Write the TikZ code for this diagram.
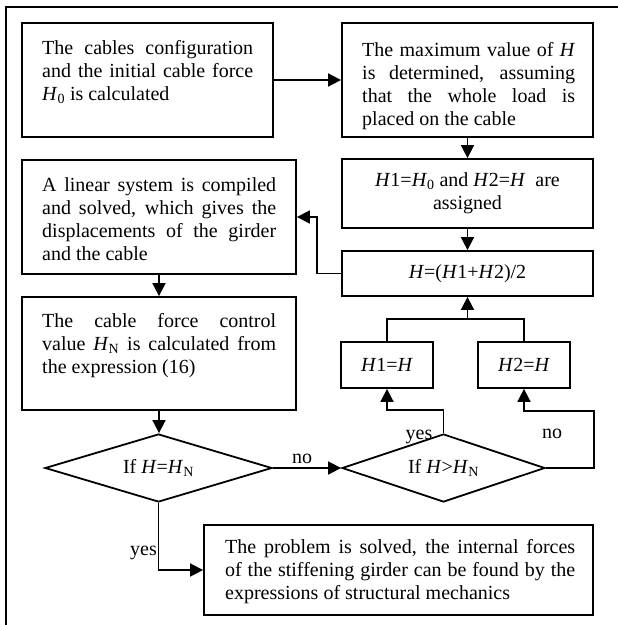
\documentclass[tikz,border=0pt]{standalone}
\usepackage{fontspec}
\setmainfont{Liberation Serif}
\usetikzlibrary{arrows.meta,shapes.geometric}
\begin{document}
\begin{tikzpicture}[x=1pt,y=-1pt,
  box/.style={draw, line width=1.8pt, rectangle, inner sep=0pt, font=\fontsize{20}{23}\selectfont},
  txt/.style={inner sep=0pt, align=justify, font=\fontsize{20}{23}\selectfont},
  dia/.style={draw, line width=1.8pt, diamond, aspect=3.3, inner sep=0pt, font=\fontsize{20}{23}\selectfont},
  conn/.style={line width=1.7pt},
  arr/.style={line width=1.7pt, -{Triangle[length=13pt,width=13pt]}},
  lab/.style={inner sep=0pt, font=\fontsize{20}{23}\selectfont}
]
\useasboundingbox (0,0) rectangle (618,625);
% outer frame (only top and left edges visible)
\coordinate (fTL) at (6,7);
\coordinate (fTR) at (620,7);
\coordinate (fBL) at (6,627);
\draw[line width=2pt] (fTR) -- (fTL) -- (fBL);

% boxes
\node[box, minimum width=251pt, minimum height=114pt] (b1) at (147.5,80) {};
\node[txt, text width=211pt, anchor=base west] (b1t) at (42,54)
  {The cables configuration\linebreak and the initial cable force\linebreak \textit{H}\textsubscript{0} is calculated};

\node[box, minimum width=251pt, minimum height=114pt] (b2) at (467.5,80) {};
\node[txt, text width=213pt, anchor=base west] (b2t) at (362,56)
  {The maximum value of \textit{H}\linebreak is determined, assuming\linebreak that the whole load is\linebreak placed on the cable};

\node[box, align=center, minimum width=251pt, minimum height=69pt] (asg) at (467.5,193.5)
  {\textit{H}1=\textit{H}\textsubscript{0} and \textit{H}2=\textit{H}~ are\\assigned};

\node[box, minimum width=251pt, minimum height=45pt] (mid) at (467.5,273.5)
  {\textit{H}=(\textit{H}1+\textit{H}2)/2};

\node[box, minimum width=274pt, minimum height=114pt] (b3) at (159,217) {};
\node[txt, text width=234pt, anchor=base west] (b3t) at (42,191)
  {A linear system is compiled\linebreak and solved, which gives the\linebreak displacements of the girder\linebreak and the cable};

\node[box, minimum width=274pt, minimum height=113pt] (bhn) at (159,353.5) {};
\node[txt, text width=234pt, anchor=base west] (bhnt) at (42,327)
  {The cable force control\linebreak value \textit{H}\textsubscript{N} is calculated from\linebreak the expression (16)};

\node[box, minimum width=92pt, minimum height=46pt] (h1) at (387,365) {\textit{H}1=\textit{H}};
\node[box, minimum width=92pt, minimum height=46pt] (h2) at (524,365) {\textit{H}2=\textit{H}};

\node[dia, minimum width=227pt, minimum height=68pt] (d1) at (158.5,468)
  {If \textit{H}=\textit{H}\textsubscript{N}};
\node[dia, minimum width=203pt, minimum height=68pt] (d2) at (443.5,468)
  {If \textit{H}>\textit{H}\textsubscript{N}};

\node[box, minimum width=389pt, minimum height=90pt] (fin) at (398.5,570) {};
\node[txt, text width=350pt, anchor=base west] (fint) at (225,553)
  {The problem is solved, the internal forces\linebreak of the stiffening girder can be found by the\linebreak expressions of structural mechanics};

% connectors
\draw[arr] (b1.east) -- (b2.west);
\draw[arr] (b2.south) -- (asg.north);
\draw[arr] (asg.south) -- (mid.north);
\draw[arr] (mid.west) -- ++(-24,0) |- (b3.east);
\draw[arr] (b3.south) -- (bhn.north);
\draw[arr] (bhn.south) -- (bhn.south |- d1.north);
\draw[arr] (d1.east) -- (d2.west);
\draw[arr] (d1.south) |- (fin.west);
\draw[arr] (d2.north) -- ++(0,-23) -| (h1.south);
\coordinate (c2) at (594,411);
\draw[arr] (d2.east) -| (c2) -- (c2 -| h2.south) -- (h2.south);
\coordinate (jn) at (467.5,319);
\draw[conn] (h1.north) |- (jn) -| (h2.north);
\draw[arr] (jn) -- (mid.south);

% labels
\node[lab, anchor=base] (l1) at (302,463) {no};
\node[lab, anchor=base east] (l2) at (157,555) {yes};
\node[lab, anchor=base] (l3) at (419,439) {yes};
\node[lab, anchor=base] (l4) at (552,438) {no};
\end{tikzpicture}
\end{document}
